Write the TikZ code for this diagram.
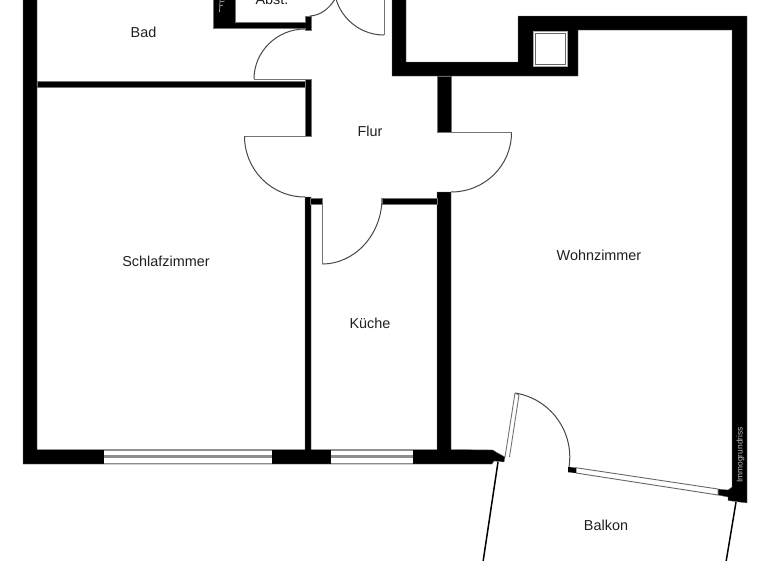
\documentclass[tikz,border=0pt]{standalone}
\usepackage{fontspec}
\setmainfont{Liberation Sans}
\tikzset{
  wall/.style={fill=black,draw=black!55,line width=0.4pt},
  door/.style={draw=black!72,line width=1pt},
  leaf/.style={draw=black!55,line width=0.9pt},
  pane/.style={draw=black!60,line width=0.9pt},
  rail/.style={draw=black,line width=1.5pt},
  room/.style={text=black!88,font=\fontsize{14.4}{16}\selectfont,inner sep=0pt},
}
\begin{document}
\begin{tikzpicture}[x=1pt,y=-1pt]
\useasboundingbox (0,0) rectangle (768,560);
\clip (0,0) rectangle (768,560);
% walls
\path[wall] (23,-5) -- (37,-5) -- (37,449.5) -- (305,449.5) -- (305,197) -- (311,197) -- (311,449.5) -- (437,449.5) -- (437,192) -- (451,192) -- (451,449.5) -- (493,450) -- (496,452) -- (505,457) -- (504,462) -- (494,461) -- (492,464) -- (23,464) -- cycle;
\path[wall] (310,198) rectangle (322,204);
\path[wall] (382,198) rectangle (437,204);
\path[wall] (37,81) rectangle (305,87);
\path[wall] (305,79) rectangle (311,136);
\path[wall] (437,76) rectangle (451,132.5);
% upper walls
\path[wall] (392,-5) -- (406,-5) -- (406,62) -- (518,62) -- (518,16) -- (747,16) -- (747,503) -- (728,500.5) -- (728,497) -- (718,495) -- (718,489) -- (728,490) -- (732,487) -- (732,30) -- (578,30) -- (578,76) -- (392,76) -- cycle;
% Abstellraum walls
\path[wall] (213,-5) -- (235,-5) -- (235,22) -- (305,22) -- (305,16) -- (311,16) -- (311,30) -- (305,30) -- (305,28) -- (213,28) -- cycle;
\draw[draw=black!35,line width=0.7pt] (220,0) -- (219.5,12) (220,2) -- (224.5,1) (220,6) -- (223,5);
% chimney shaft
\path[fill=white,draw=black!35,line width=1pt] (533.5,31) rectangle (567,66);
\path[draw=black!60,line width=0.8pt] (535.5,33) rectangle (565,64.5);
% windows
\path[fill=white] (104,449.5) rectangle (272,464);
\path[fill=white] (331,449.5) rectangle (413,464);
\foreach \wy/\ww in {450.5/1.2,456.5/3,463.2/1.2} {
  \draw[draw=black!45,line width=\ww pt] (104,\wy) -- (272,\wy);
  \draw[draw=black!45,line width=\ww pt] (331,\wy) -- (413,\wy);
}
% doors
\draw[door] (254,79) .. controls (254,51.4) and (277,29) .. (305,29);
\draw[leaf] (254,79.5) -- (305,79.5);
\draw[door] (310,16) .. controls (320,15.5) and (329,9) .. (335,-1);
\draw[door] (334,-15) .. controls (334,12.6) and (356.4,35) .. (384,35);
\draw[leaf] (384,35) -- (384,-5);
\draw[door] (244.5,136) .. controls (244.5,169.7) and (271.3,197) .. (305,197);
\draw[leaf] (244.5,136) -- (306,136);
\draw[door] (511.5,132.7) .. controls (511.5,165.6) and (484.7,192) .. (451,192);
\draw[leaf] (451,132.7) -- (511.5,132.7);
\draw[door] (322,264) .. controls (355,264) and (382,234.4) .. (382,198);
\draw[leaf] (322,198) -- (322,264);
% balcony door and window
\path[fill=white,pane] (576,467.7) -- (718,489) -- (718,495) -- (576,473) -- cycle;
\path[fill=black] (568,467) -- (576,467.7) -- (576,473) -- (568,472.2) -- cycle;
\draw[door] (515,393) .. controls (550.3,398.5) and (574.5,431.7) .. (569,467);
\draw[leaf] (515,393) -- (505,457);
\draw[leaf] (519,395) -- (509.5,457);
\draw[leaf] (515,393) -- (519,395);
% balcony rails
\coordinate (railAtop) at (498,462);
\coordinate (railAend) at (483,562);
\coordinate (railBtop) at (736,502);
\coordinate (railBend) at (726,562);
\draw[rail] (railAtop) -- (railAend);
\draw[rail] (railBtop) -- (railBend);
% labels
\node[room] (bad) at (143.5,32.5) {Bad};
\node[room] (abst) at (272,-0.5) {Abst.};
\node[room] (flur) at (370,131) {Flur};
\node[room] (schlaf) at (166,261.5) {Schlafzimmer};
\node[room] (wohn) at (599,255) {Wohnzimmer};
\node[room] (kueche) at (370,323.5) {Küche};
\node[room] (balkon) at (606,525.5) {Balkon};
\node[text=black!25,font=\fontsize{8.4}{9}\selectfont,inner sep=0pt,rotate=90] (immo) at (740.5,455) {Immogrundriss};
\end{tikzpicture}
\end{document}
